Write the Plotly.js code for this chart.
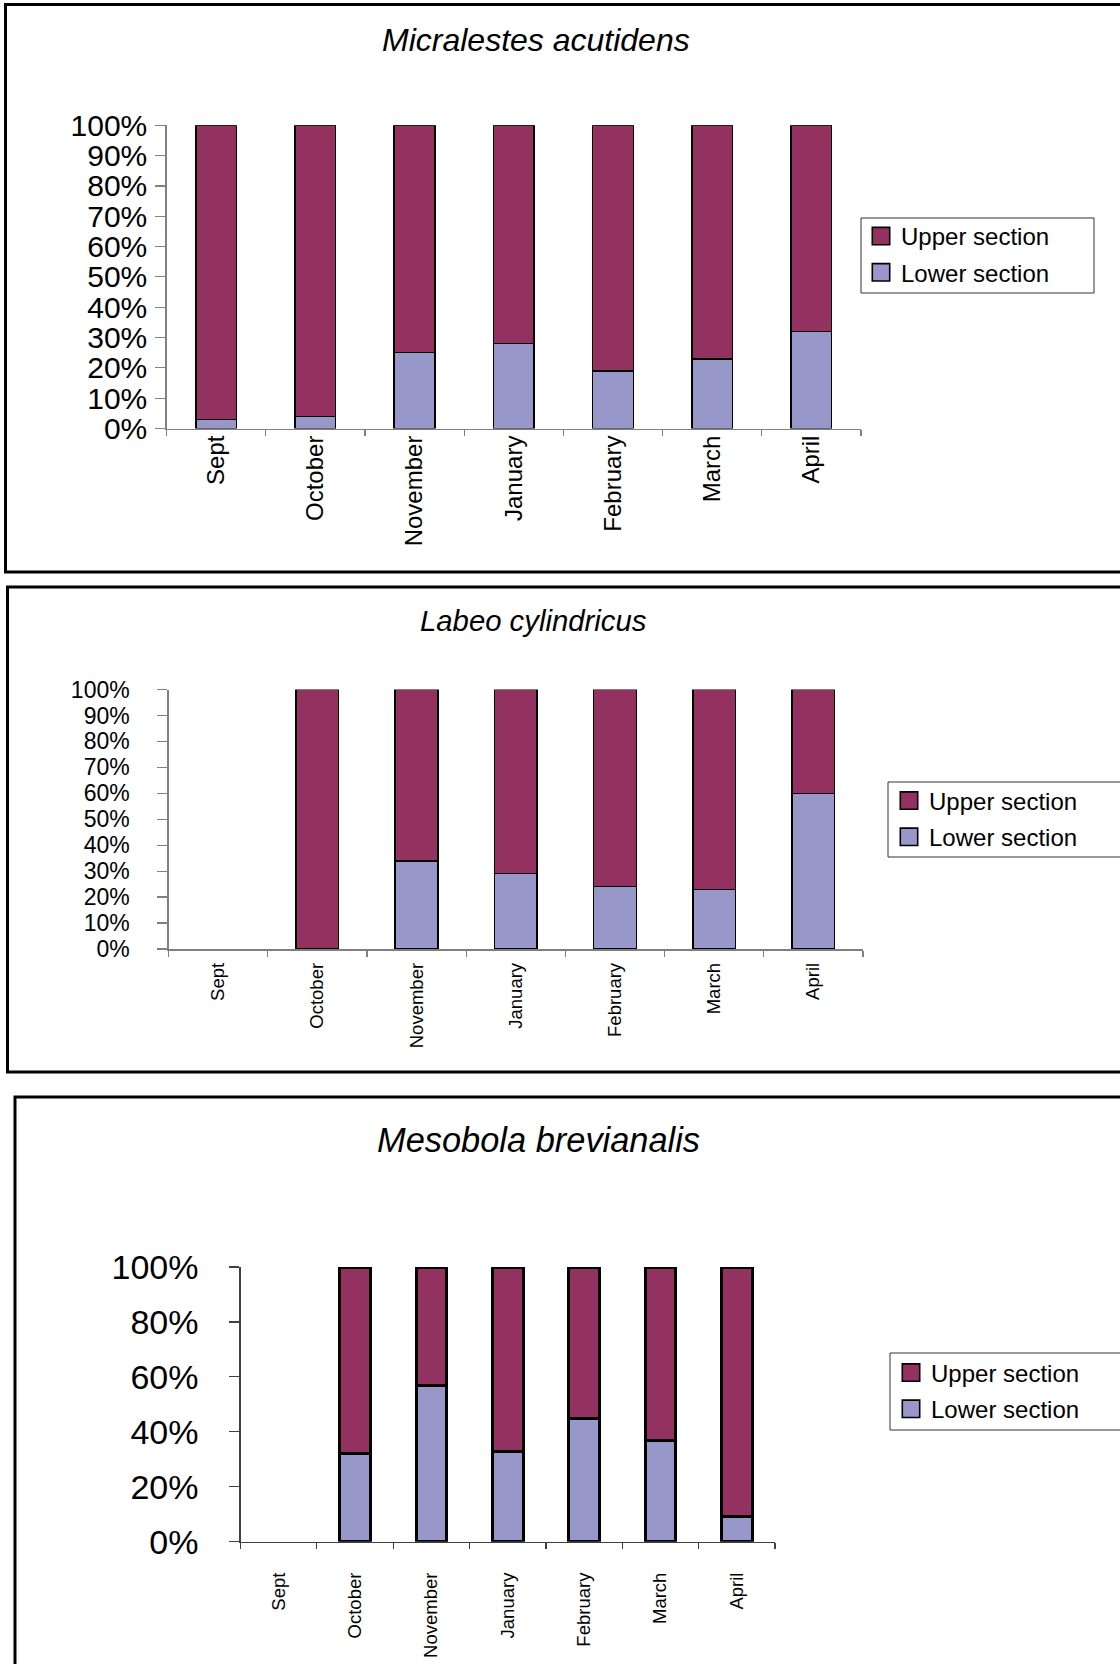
<!DOCTYPE html>
<html>
<head>
<meta charset="utf-8">
<script src="https://cdn.plot.ly/plotly-3.0.1.min.js"></script>
<style>
  html, body { margin: 0; padding: 0; background: #ffffff; }
  #chart { width: 1120px; height: 1664px; }
</style>
</head>
<body>
<div id="chart"></div>
<script>
// Sampling months (x categories)
const months = ['Sept', 'October', 'November', 'January', 'February', 'March', 'April'];

// Series names
const upperName = 'Upper section';
const lowerName = 'Lower section';

// Species titles
const species = ['Micralestes acutidens', 'Labeo cylindricus', 'Mesobola brevianalis'];

// Percentage of catch per section, Micralestes acutidens
const micraLower = [3, 4, 25, 28, 19, 23, 32];
const micraUpper = [97, 96, 75, 72, 81, 77, 68];

// Labeo cylindricus (none caught in September)
const labeoLower = [null, 0, 34, 29, 24, 23, 60];
const labeoUpper = [null, 100, 66, 71, 76, 77, 40];

// Mesobola brevianalis (none caught in September)
const mesoLower = [null, 32, 57, 33, 45, 37, 9];
const mesoUpper = [null, 68, 43, 67, 55, 63, 91];

// ---- page geometry helpers (pixels -> paper fractions) ----
const W = 1120, H = 1664;
const px = v => v / W;
const py = v => 1 - v / H;

const upperColor = '#933260';
const lowerColor = '#9797C9';
const FONT = 'Liberation Sans, Arial, sans-serif';

function barPair(lower, upper, idx, width, lw) {
  const sfx = idx === 1 ? '' : String(idx);
  const lg = idx === 1 ? 'legend' : 'legend' + idx;
  const common = {
    type: 'bar', x: months, xaxis: 'x' + sfx, yaxis: 'y' + sfx,
    width: width, legend: lg, hoverinfo: 'x+y+name'
  };
  return [
    Object.assign({}, common, {
      name: lowerName, y: lower, legendgroup: 'low' + idx, legendrank: 2,
      marker: { color: lowerColor, line: { color: '#000000', width: lw } }
    }),
    Object.assign({}, common, {
      name: upperName, y: upper, legendgroup: 'up' + idx, legendrank: 1,
      marker: { color: upperColor, line: { color: '#000000', width: lw } }
    })
  ];
}

const data = []
  .concat(barPair(micraLower, micraUpper, 1, 0.41, 1.5))
  .concat(barPair(labeoLower, labeoUpper, 2, 0.43, 1.5))
  .concat(barPair(mesoLower, mesoUpper, 3, 0.40, 3));

function xAxis(domain, anchor, fontSize, standoff, lineColor) {
  return {
    domain: domain, anchor: anchor, type: 'category',
    showline: true, linecolor: lineColor, linewidth: 1.5,
    ticks: 'outside', tickson: 'boundaries', ticklen: 6, tickwidth: 1.2, tickcolor: lineColor,
    tickangle: -90, ticklabelstandoff: standoff,
    tickfont: { family: FONT, size: fontSize, color: '#000000' },
    showgrid: false, zeroline: false, fixedrange: true
  };
}

function yAxis(domain, anchor, fontSize, dtick, standoff, lineColor) {
  return {
    domain: domain, anchor: anchor, range: [0, 100], dtick: dtick, ticksuffix: '%',
    showline: true, linecolor: lineColor, linewidth: 1.2,
    ticks: 'outside', ticklen: 10, tickwidth: 1.2, tickcolor: lineColor,
    ticklabelstandoff: standoff,
    tickfont: { family: FONT, size: fontSize, color: '#000000' },
    showgrid: false, zeroline: false, fixedrange: true
  };
}

function legendAt(xPix, yPix) {
  return {
    x: px(xPix), y: py(yPix), xanchor: 'left', yanchor: 'top',
    bgcolor: 'rgba(0,0,0,0)', borderwidth: 0,
    traceorder: 'grouped', tracegroupgap: 2,
    font: { family: FONT, size: 24, color: '#000000' }
  };
}

function frame(x0, y0, x1, y1) {
  return {
    type: 'rect', xref: 'paper', yref: 'paper',
    x0: px(x0), x1: px(x1), y0: py(y1), y1: py(y0),
    line: { color: '#000000', width: 3 }, fillcolor: 'rgba(0,0,0,0)', layer: 'below'
  };
}

function legendBox(x0, y0, x1, y1) {
  return {
    type: 'rect', xref: 'paper', yref: 'paper',
    x0: px(x0), x1: px(x1), y0: py(y1), y1: py(y0),
    line: { color: '#333333', width: 1 }, fillcolor: 'rgba(0,0,0,0)', layer: 'below'
  };
}

function title(text, xPix, yPix, size) {
  return {
    text: text, xref: 'paper', yref: 'paper', x: px(xPix), y: py(yPix),
    xanchor: 'center', yanchor: 'middle', showarrow: false,
    font: { family: FONT, size: size, style: 'italic', color: '#000000' }
  };
}

const layout = {
  width: W, height: H,
  margin: { l: 0, r: 0, t: 0, b: 0 },
  paper_bgcolor: '#ffffff', plot_bgcolor: 'rgba(0,0,0,0)',
  barmode: 'stack',
  showlegend: true,
  xaxis:  xAxis([px(166.5), px(861)], 'y', 24, -4, '#808080'),
  yaxis:  yAxis([py(428.5), py(125.3)], 'x', 30, 10, 2, '#808080'),
  xaxis2: xAxis([px(168.5), px(863)], 'y2', 18.5, 5, '#808080'),
  yaxis2: yAxis([py(949), py(689.5)], 'x2', 23, 10, 23, '#808080'),
  xaxis3: xAxis([px(240.5), px(775)], 'y3', 18.5, 22, '#404040'),
  yaxis3: yAxis([py(1541.7), py(1267)], 'x3', 34, 20, 24, '#404040'),
  legend:  legendAt(861, 214),
  legend2: legendAt(889, 778.5),
  legend3: legendAt(891, 1350.5),
  shapes: [
    frame(5.5, 4.5, 1135, 572),
    frame(7.5, 587, 1135, 1072),
    frame(15, 1097, 1135, 1680),
    legendBox(861, 218, 1094, 293),
    legendBox(888, 782, 1135, 857),
    legendBox(890, 1353, 1135, 1430)
  ],
  annotations: [
    title(species[0], 536, 40, 32),
    title(species[1], 533, 620, 29.3),
    title(species[2], 538, 1140, 34.4)
  ]
};

Plotly.newPlot('chart', data, layout, { staticPlot: true, displayModeBar: false }).then(() => {
  // Larger legend swatches with a thin dark outline
  document.querySelectorAll('.legendpoints path').forEach(p => {
    const t = p.getAttribute('transform') || '';
    p.setAttribute('transform', t + ' scale(1.45)');
    p.style.strokeWidth = '1.1px';
  });
});
</script>
</body>
</html>
